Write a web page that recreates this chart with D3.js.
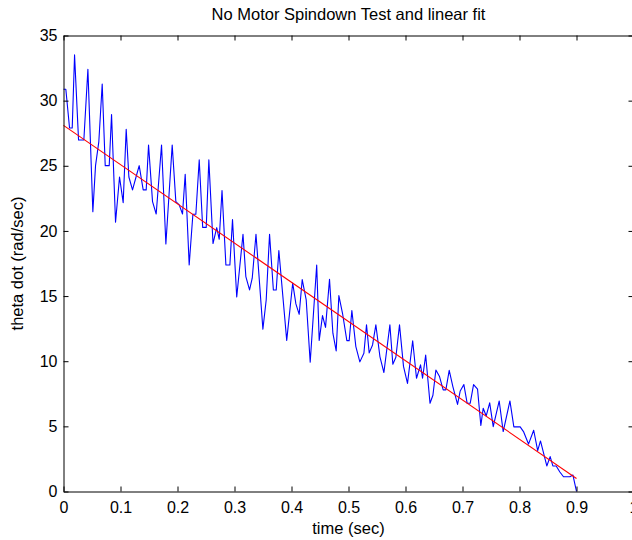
<!DOCTYPE html>
<html>
<head>
<meta charset="utf-8">
<script src="https://cdn.jsdelivr.net/npm/d3@7"></script>
<style>
  html, body { margin: 0; padding: 0; background: #fff; }
  svg { display: block; font-family: "Liberation Sans", Arial, Helvetica, sans-serif; }
</style>
</head>
<body>
<svg id="chart" width="632" height="540"></svg>
<script>
// ---- data ----
const time = [0.0000,0.0041,0.0106,0.0153,0.0194,0.0264,0.0357,0.0428,0.0515,0.0562,
  0.0620,0.0679,0.0732,0.0802,0.0843,0.0913,0.0983,0.1047,0.1100,0.1147,
  0.1211,0.1270,0.1328,0.1398,0.1451,0.1492,0.1562,0.1626,0.1720,0.1796,
  0.1907,0.1971,0.2030,0.2088,0.2135,0.2205,0.2270,0.2322,0.2381,0.2442,
  0.2504,0.2550,0.2623,0.2688,0.2732,0.2781,0.2849,0.2919,0.2965,0.3039,
  0.3149,0.3199,0.3264,0.3311,0.3377,0.3498,0.3556,0.3615,0.3682,0.3732,
  0.3778,0.3916,0.4021,0.4077,0.4135,0.4188,0.4258,0.4328,0.4442,0.4486,
  0.4544,0.4597,0.4667,0.4726,0.4784,0.4831,0.4895,0.4971,0.5012,0.5059,
  0.5129,0.5199,0.5270,0.5316,0.5363,0.5422,0.5480,0.5551,0.5621,0.5726,
  0.5778,0.5831,0.5895,0.5965,0.6035,0.6126,0.6193,0.6264,0.6299,0.6354,
  0.6430,0.6481,0.6533,0.6597,0.6661,0.6708,0.6767,0.6831,0.6913,0.6960,
  0.7024,0.7082,0.7135,0.7194,0.7264,0.7322,0.7363,0.7416,0.7477,0.7539,
  0.7644,0.7714,0.7832,0.7901,0.8012,0.8070,0.8158,0.8249,0.8319,0.8368,
  0.8479,0.8538,0.8585,0.8644,0.8708,0.8772,0.8884,0.8937,0.8966,0.9000];
const thetaDot = [30.87,30.87,27.90,27.90,33.51,26.98,26.98,32.41,21.48,25.01,
  26.86,31.28,25.01,25.01,28.93,20.67,24.14,22.17,27.80,24.14,
  23.15,24.10,25.01,23.15,23.15,26.60,22.25,21.30,26.60,19.00,
  26.60,22.25,22.00,21.30,24.35,17.39,21.28,21.28,25.45,20.27,
  20.27,25.45,19.03,20.25,19.36,23.10,17.39,17.39,20.87,14.93,
  19.74,16.50,15.47,16.37,19.74,12.46,14.70,19.74,15.47,15.47,
  18.50,11.60,16.00,14.40,13.60,16.27,14.70,9.92,17.39,11.60,
  13.50,12.60,16.29,12.15,10.79,15.04,13.68,11.58,11.58,13.89,
  11.12,9.95,10.61,12.79,10.64,11.25,12.79,10.36,9.13,12.79,
  9.77,10.30,12.79,9.60,8.30,11.57,8.69,9.72,8.69,10.47,
  6.77,7.39,9.33,8.82,7.80,7.80,9.30,8.05,6.68,7.72,
  8.21,6.77,6.77,8.21,7.85,5.07,6.39,5.80,6.80,4.98,
  6.95,4.60,6.95,4.96,4.96,4.60,3.64,4.70,3.13,3.88,
  1.96,2.68,1.96,1.96,1.50,1.13,1.13,1.27,0.69,0.00];
// linear fit drawn between its two end points
const fitTime = [0, 0.9];
const fitValues = [28.1, 1.0];
const xTicks = [0,0.1,0.2,0.3,0.4,0.5,0.6,0.7,0.8,0.9,1];
const xTickLabels = ["0","0.1","0.2","0.3","0.4","0.5","0.6","0.7","0.8","0.9","1"];
const yTicks = [0,5,10,15,20,25,30,35];
const titleText = "No Motor Spindown Test and linear fit";
const xLabelText = "time (sec)";
const yLabelText = "theta dot (rad/sec)";

// ---- layout ----
const svg = d3.select("#chart");
const L = 63.5, R = 633.5, T = 35.5, B = 491.5;
const x = d3.scaleLinear().domain([0, 1]).range([L, R]);
const y = d3.scaleLinear().domain([0, 35]).range([B, T]);
const tickFont = 16;
const labelFont = 16.5;

svg.append("rect").attr("width", 632).attr("height", 540).attr("fill", "#fff");

const line = d3.line().x(d => x(d[0])).y(d => y(d[1]));
svg.append("path")
  .datum(time.map((t, i) => [t, thetaDot[i]]))
  .attr("d", line).attr("fill", "none")
  .attr("stroke", "#0000ff").attr("stroke-width", 1.1)
  .attr("stroke-linejoin", "round");
svg.append("path")
  .datum(fitTime.map((t, i) => [t, fitValues[i]]))
  .attr("d", line).attr("fill", "none")
  .attr("stroke", "#ff0000").attr("stroke-width", 1.1);

// axes (MATLAB style: inward ticks, box)
function styleAxis(g) {
  g.selectAll("path.domain").attr("stroke", "#000").attr("stroke-width", 1);
  g.selectAll(".tick line").attr("stroke", "#000").attr("stroke-width", 1);
  g.selectAll(".tick text").attr("fill", "#000")
    .style("font-size", tickFont + "px")
    .style("font-family", '"Liberation Sans", Arial, Helvetica, sans-serif');
}
const tickLen = 5;
const gx = svg.append("g").attr("transform", `translate(0,${B})`)
  .call(d3.axisBottom(x).tickValues(xTicks).tickFormat((d, i) => xTickLabels[i])
    .tickSizeInner(-tickLen).tickSizeOuter(0).tickPadding(10));
styleAxis(gx);
const gxt = svg.append("g").attr("transform", `translate(0,${T})`)
  .call(d3.axisTop(x).tickValues(xTicks).tickFormat("")
    .tickSizeInner(-tickLen).tickSizeOuter(0));
styleAxis(gxt);
const gy = svg.append("g").attr("transform", `translate(${L},0)`)
  .call(d3.axisLeft(y).tickValues(yTicks).tickFormat(d3.format("d"))
    .tickSizeInner(-tickLen).tickSizeOuter(0).tickPadding(6));
styleAxis(gy);
const gyr = svg.append("g").attr("transform", `translate(${R},0)`)
  .call(d3.axisRight(y).tickValues(yTicks).tickFormat("")
    .tickSizeInner(-tickLen).tickSizeOuter(0));
styleAxis(gyr);

// titles
svg.append("text").attr("x", (L + R) / 2).attr("y", 20)
  .attr("text-anchor", "middle").style("font-size", labelFont + "px").attr("fill", "#000")
  .text(titleText);
svg.append("text").attr("x", (L + R) / 2).attr("y", 534)
  .attr("text-anchor", "middle").style("font-size", labelFont + "px").attr("fill", "#000")
  .text(xLabelText);
svg.append("text")
  .attr("transform", `translate(23,${(T + B) / 2}) rotate(-90)`)
  .attr("text-anchor", "middle").style("font-size", labelFont + "px").attr("fill", "#000")
  .text(yLabelText);
</script>
</body>
</html>
